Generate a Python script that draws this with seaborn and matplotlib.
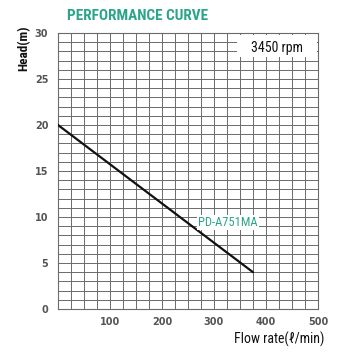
import matplotlib
matplotlib.use("Agg")
import matplotlib.pyplot as plt
import seaborn as sns
import pandas as pd
import numpy as np
from matplotlib import font_manager

# data
flow = [0, 375]
head = [20, 4]
model = "PD-A751MA"
rpm_label = "3450 rpm"
x_ticks = [100, 200, 300, 400, 500]
y_ticks = [0, 5, 10, 15, 20, 25, 30]

sns.set_style("white")
plt.rcParams['font.family'] = ['DejaVu Sans']

names = {f.name for f in font_manager.fontManager.ttflist}
narrow = None
for cand in ["Roboto Condensed", "Liberation Sans Narrow", "DejaVu Sans Condensed", "Open Sans Condensed"]:
    if cand in names:
        narrow = cand
        break
cond = [narrow, "DejaVu Sans"] if narrow else ["DejaVu Sans"]

teal = "#2aa58a"
grid_c = "#6a6a6a"

df = pd.DataFrame({"flow": flow, "head": head})

fig = plt.figure(figsize=(3.6, 3.6), dpi=100)
ax = fig.add_axes([58/360, 51/360, 260/360, 276/360])

ax.set_xlim(0, 500)
ax.set_ylim(0, 30)
ax.set_xticks(np.arange(0, 501, 25), minor=True)
ax.set_yticks(np.arange(0, 31, 1), minor=True)
ax.grid(which="both", color=grid_c, lw=0.7)
ax.set_axisbelow(True)
ax.set_xticks(x_ticks)
ax.set_yticks(y_ticks)
ax.tick_params(which="both", length=0)
for s in ax.spines.values():
    s.set_color(grid_c)
    s.set_linewidth(0.8)

sns.lineplot(data=df, x="flow", y="head", ax=ax, color="#111111", lw=1.6, zorder=5)

ax.set_xlabel("")
ax.set_ylabel("")
for lab in ax.get_xticklabels() + ax.get_yticklabels():
    lab.set_fontsize(7)
    lab.set_fontweight("bold")
    lab.set_color("#555555")
ax.tick_params(axis="x", pad=6)
ax.tick_params(axis="y", pad=7)

# rpm box
ax.add_patch(plt.Rectangle((344, 27.35), 154, 2.4, facecolor="white", edgecolor="none", zorder=3))
ax.text(422, 28.4, rpm_label, ha="center", va="center", fontsize=10, family=cond,
        color="#111111", zorder=6)

# model label
ax.text(327, 9.4, model, ha="center", va="center", fontsize=9, color=teal, family=cond,
        zorder=6, bbox=dict(facecolor="white", edgecolor="none", pad=1))

fig.text(138/360, 1 - 16/360, "PERFORMANCE CURVE", ha="center", va="center", fontsize=11,
         fontweight="bold", family=cond, color=teal)
fig.text(24/360, 1 - 48/360, "Head(m)", ha="center", va="center", rotation=90, fontsize=9.5,
         fontweight="bold", family=cond, color="#111111")
fig.text(279/360, 1 - 339/360, "Flow rate(ℓ/min)", ha="center", va="center", fontsize=10,
         family=cond, color="#111111")

fig.savefig("out.png", dpi=100, facecolor="white")
